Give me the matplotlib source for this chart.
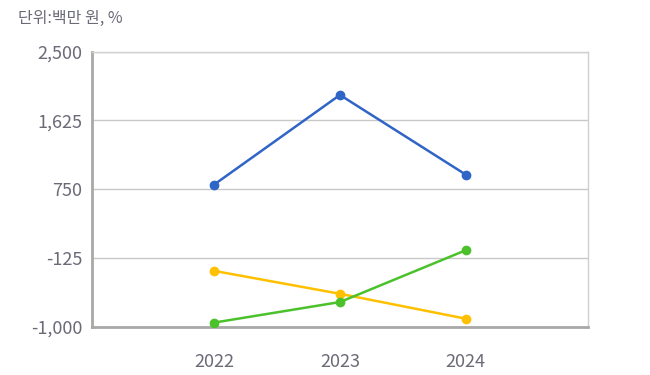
import numpy as np
import matplotlib
matplotlib.use('Agg')
import matplotlib.pyplot as plt

plt.rcParams['font.family'] = ['Noto Sans CJK KR', 'DejaVu Sans']

years = ['2022', '2023', '2024']
blue_vals = [808, 1950, 935]
yellow_vals = [-290, -582, -899]
green_vals = [-949, -687, -27]
yticks = [-1000, -125, 750, 1625, 2500]

fig = plt.figure(figsize=(6.5, 3.75), dpi=100)
ax = fig.add_axes([0.1415, 0.129, 0.763, 0.733])

x = np.arange(len(years))
for vals, col in [(blue_vals, '#2F65C6'), (yellow_vals, '#FFC000'), (green_vals, '#4BC22C')]:
    ax.plot(x, vals, color=col, lw=1.8, marker='o', ms=6, zorder=3)

ax.set_xlim(-0.97, 2.97)
ax.set_ylim(-1000, 2500)
ax.set_xticks(x)
ax.set_xticklabels(years)
ax.set_yticks(yticks)
ax.set_yticklabels([f'{v:,}' for v in yticks])
ax.grid(axis='y', color='#c8c8c8', lw=1)
ax.set_axisbelow(True)

for s in ['top', 'right']:
    ax.spines[s].set_color('#d0d0d0')
    ax.spines[s].set_linewidth(1)
for s in ['left', 'bottom']:
    ax.spines[s].set_color('#a8a8a8')
    ax.spines[s].set_linewidth(2)

ax.tick_params(length=0, labelsize=13, colors='#6b6b78', pad=7)
ax.tick_params(axis='x', pad=19)

fig.text(0.028, 0.952, '단위:백만 원, %', fontsize=11.5, color='#6b6b78', va='center')

fig.savefig('out.png', dpi=100)
